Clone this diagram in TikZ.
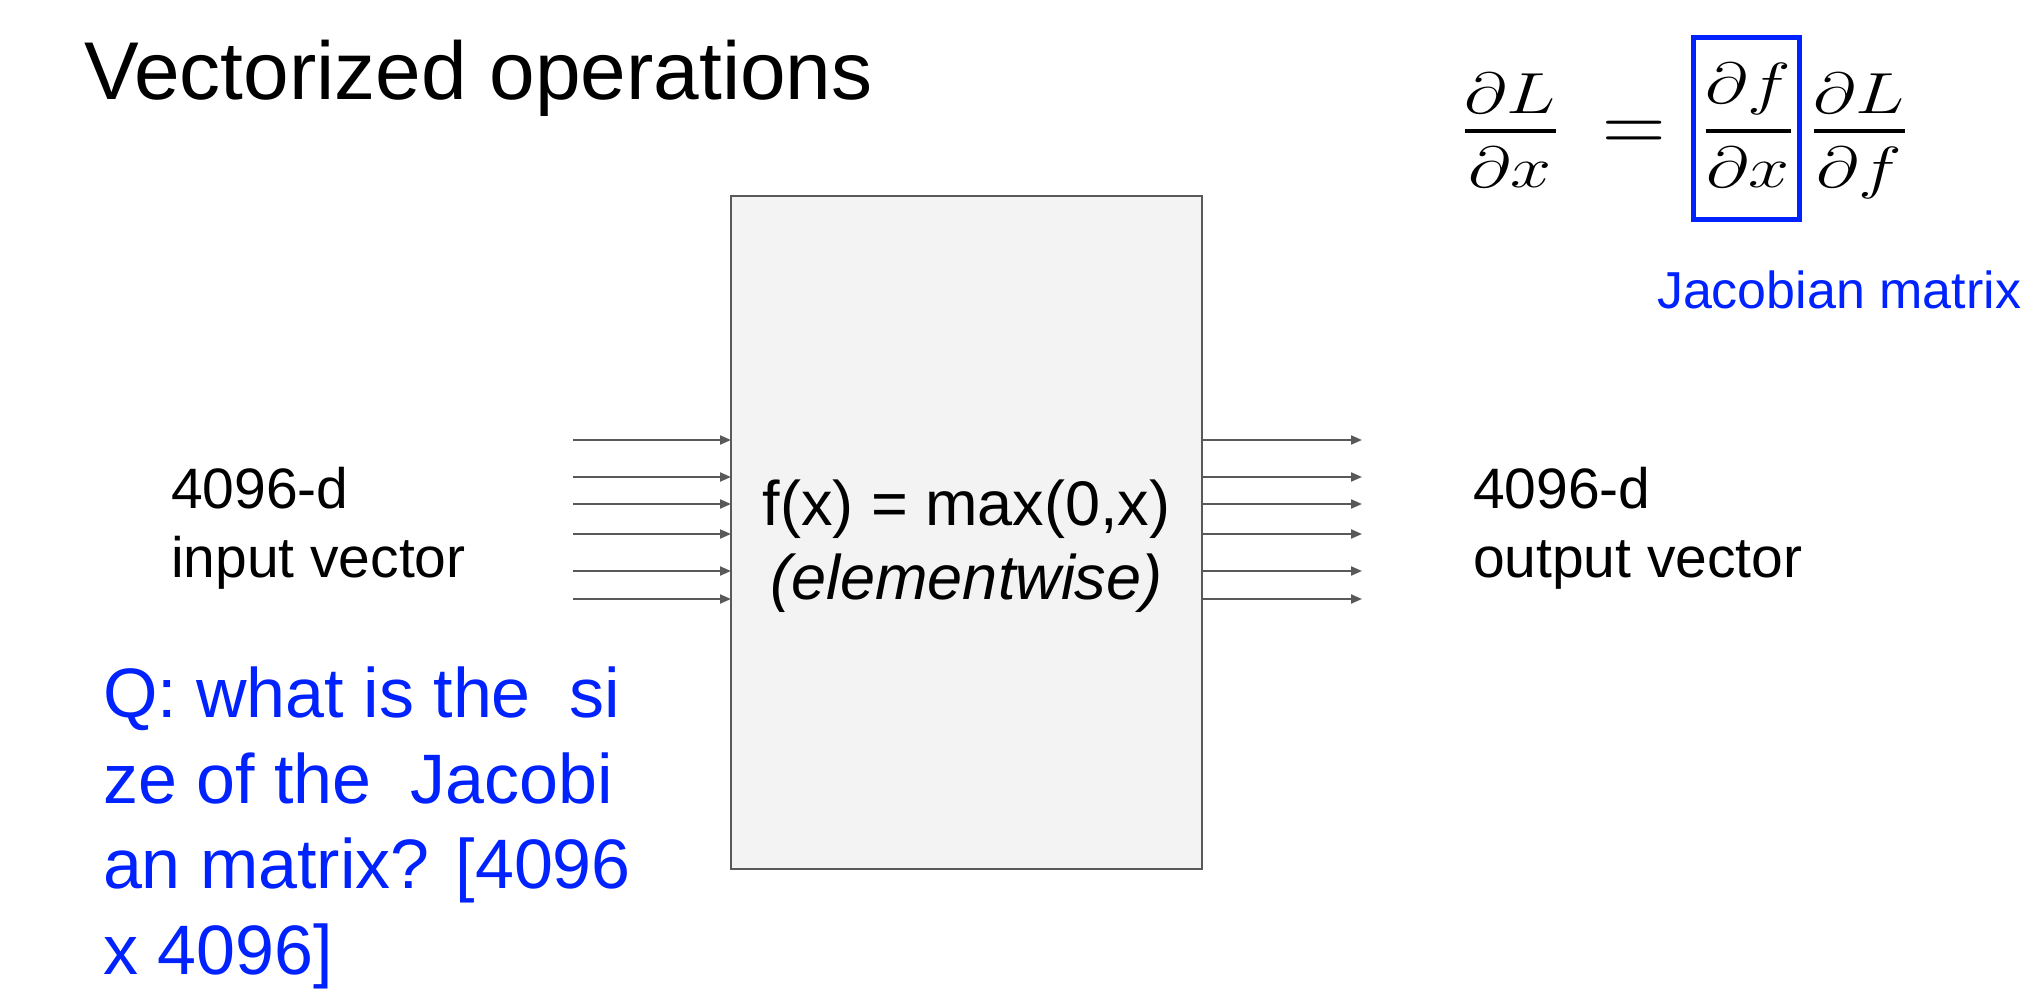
\RequirePackage{fix-cm}
\documentclass[tikz,border=0pt]{standalone}
\usepackage{amsmath}
\usepackage{graphicx}
\usepackage{fontspec}
\setmainfont{Liberation Sans}
\usetikzlibrary{arrows.meta}
\definecolor{agray}{RGB}{89,89,89}
\definecolor{boxfill}{RGB}{243,243,243}
\definecolor{qblue}{RGB}{0,34,255}
\newcommand\eqfsize{\fontsize{58}{58}\selectfont}
\newcommand\numlow[1]{\raisebox{-7pt}{$\displaystyle #1$}}
\tikzset{
  txt/.style={inner sep=0pt, outer sep=0pt, anchor=base west},
  eqn/.style={inner sep=0pt, outer sep=0pt, anchor=base},
  funcbox/.style={draw=agray, fill=boxfill, line width=2.5pt, inner sep=0pt, outer sep=0pt},
  jacbox/.style={draw=qblue, line width=5pt, inner sep=0pt, outer sep=0pt},
  vecarrow/.style={draw=agray, line width=2pt, -{Triangle[length=11pt,width=9pt]}},
}
\begin{document}
\begin{tikzpicture}[x=1pt,y=-1pt]
\useasboundingbox[fill=white] (0,0) rectangle (2044,1008);

% title
\node[txt, font=\fontsize{82}{98}\selectfont] (title) at (84,100) {Vectorized operations};

% function box (multi-line nodes: base anchor = last line's baseline)
\node[funcbox, minimum width=471pt, minimum height=673pt] (fbox) at (966.5,532.5) {};
\node[eqn, align=center, font=\fontsize{63}{74}\selectfont] (ftext) at (966.5,599)
  {f(x) = max(0,x)\\\textit{(elementwise)}};

% arrows
\foreach \i/\yy in {1/440,2/477,3/504,4/534,5/571,6/599}{
  \coordinate (in\i) at (573,\yy);
  \coordinate (out\i) at (1362,\yy);
  \draw[vecarrow] (in\i) -- (in\i -| fbox.west);
  \draw[vecarrow] (out\i -| fbox.east) -- (out\i);
}

% vector labels
\node[txt, align=left, font=\fontsize{57}{69}\selectfont] (intext) at (171,577)
  {4096-d\\input vector};
\node[txt, align=left, font=\fontsize{57}{69}\selectfont] (outtext) at (1473,577)
  {4096-d\\output vector};

% question
\node[txt, align=left, text=qblue, font=\fontsize{70}{85.5}\selectfont] (question) at (103,974)
  {Q: what is the\ \ si\\ze of the\ \ Jacobi\\an matrix? [4096\\x 4096]};

% equation
\node[eqn] (frac1) at (1510.5,145.5)
  {\scalebox{1.27}[1]{\eqfsize$\displaystyle\genfrac{}{}{4.5pt}{0}{\numlow{\partial L}}{\partial x}$}};
\node[eqn] (eqsign) at (1634,153)
  {\fontsize{88}{88}\selectfont$=$};
\node[eqn] (frac2) at (1748.5,145.5)
  {\scalebox{1.27}[1]{\eqfsize$\displaystyle\genfrac{}{}{4.5pt}{0}{\numlow{\partial f}}{\partial x}$}};
\node[eqn] (frac3) at (1859.5,145.5)
  {\scalebox{1.27}[1]{\eqfsize$\displaystyle\genfrac{}{}{4.5pt}{0}{\numlow{\partial L}}{\partial f}$}};
\node[jacbox, minimum width=106pt, minimum height=182pt] (jb) at (1746.5,128.5) {};

% jacobian label
\node[txt, text=qblue, font=\fontsize{52}{60}\selectfont] (jaclabel) at (1657,308) {Jacobian matrix};
\end{tikzpicture}
\end{document}
